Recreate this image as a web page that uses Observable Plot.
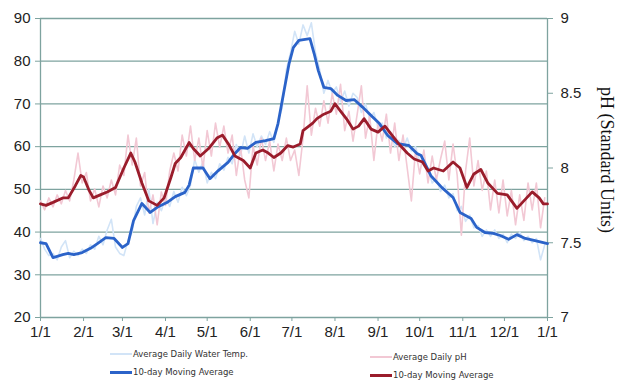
<!DOCTYPE html>
<html><head><meta charset="utf-8">
<script src="https://cdn.jsdelivr.net/npm/d3@7"></script>
<script src="https://cdn.jsdelivr.net/npm/@observablehq/plot@0.6"></script>
<style>
body{margin:0;background:#fff;}
#wrap{position:relative;width:620px;height:380px;overflow:hidden;background:#fff;}
#wrap svg{position:absolute;left:0;top:0;}
.lg{position:absolute;font-family:"DejaVu Sans",Verdana,sans-serif;font-size:8.5px;color:#333;white-space:nowrap;line-height:10px;}
.sw{position:absolute;width:22px;}
#ylab2{position:absolute;left:606px;top:160px;font-family:"Liberation Serif","Times New Roman",serif;font-size:18px;color:#111;white-space:nowrap;transform:translate(-50%,-50%) rotate(90deg);}
</style>
</head><body>
<div id="wrap"></div>
<script>
// ---- data ----
const monthLabels = ["1/1","2/1","3/1","4/1","5/1","6/1","7/1","8/1","9/1","10/1","11/1","12/1","1/1"];
const leftTicks = [20,30,40,50,60,70,80,90];
const phTicks = [7,7.5,8,8.5,9];

// day-of-year sample positions for daily series
const dailyDays = [0,3,6,9,12,15,18,21,24,27,30,33,36,39,42,45,48,51,54,57,60,63,66,69,72,75,78,81,84,87,90,93,96,99,102,105,108,111,114,117,120,123,126,129,132,135,138,141,144,147,150,153,156,159,162,165,168,171,174,177,180,183,186,189,192,195,198,201,204,207,210,213,216,219,222,225,228,231,234,237,240,243,246,249,252,255,258,261,264,267,270,273,276,279,282,285,288,291,294,297,300,303,306,309,312,315,318,321,324,327,330,333,336,339,342,345,348,351,354,357,360,363];
const dailyTemp = [38.5,36,34.5,35,33.5,36.5,38,34,35.5,34.5,
  36,35,37,36,39,37,40.5,43,36.5,35,
  34.5,38,40,46,48,44,50,42,47,45,
  48,46,49.5,47,50.5,48.5,51,57,54,56.5,
  51.5,54,52.5,56,54.5,57.5,56,60.5,58,62.5,
  58.5,63,60,62.5,60.5,63.5,61,66,69,78,
  82,87,84,88.5,86,89,82,78,72.5,75.5,
  72.5,74,70.5,73,69.5,72.5,71.5,68,70,66.5,
  68,64.5,65.5,62,63.5,60,61.5,59.5,62,59,
  60,56.5,57,55,51.5,52.5,49.5,51,48,49,
  45,46,42.5,44,41,41.5,39,40.5,39,40.5,
  38.5,39.5,37.5,39.5,38.5,40,38,39,37.5,38.5,
  33.5,37];
const dailyPH = [7.78,7.72,7.80,7.74,7.82,7.76,7.85,7.78,7.92,8.10,
  7.90,7.97,7.78,7.86,7.74,7.88,7.80,7.92,7.82,8.02,
  7.95,8.22,8.02,8.20,7.88,7.97,7.70,7.82,7.62,7.84,
  7.75,7.98,8.10,7.98,8.22,8.08,8.28,8.05,8.20,8.00,
  8.25,8.08,8.30,8.14,8.28,8.10,8.22,7.95,8.14,7.92,
  7.80,8.15,8.02,8.20,8.05,8.18,7.98,8.16,8.05,8.20,
  8.05,8.12,7.95,8.20,8.55,8.22,8.40,8.28,8.45,8.30,
  8.50,8.36,8.56,8.25,8.38,8.18,8.36,8.55,8.20,8.35,
  8.05,8.30,8.18,8.36,8.10,8.30,8.05,8.22,8.00,7.78,
  8.12,7.96,8.12,7.90,8.08,7.92,8.06,8.18,7.92,8.16,
  7.95,7.55,7.98,8.20,7.88,8.05,7.85,7.98,7.72,7.92,
  7.70,7.92,7.68,7.85,7.62,7.82,7.65,7.90,7.72,7.90,
  7.60,7.80];

// 10-day moving averages
const tempMADays = [0,4,9,16,20,24,30,36,41,47,53,59,63,67,73,79,84,91,97,104,107,110,117,122,128,135,140,144,149,155,162,168,171,175,179,182,186,194,197,200,204,209,214,220,226,232,238,244,250,257,265,271,274,281,289,297,302,310,314,320,326,331,337,343,349,356,365];
const tempMA = [37.5,37.3,34.0,34.7,35.0,34.7,35.2,36.2,37.3,38.7,38.5,36.4,37.3,42.7,46.7,44.6,45.8,46.9,48.3,49.3,51.0,55.0,55.0,52.5,54.4,56.3,58.4,59.8,59.6,61.0,61.4,61.9,65.4,72.5,79.5,83.2,84.9,85.3,81.8,77.8,73.9,73.6,72.0,70.8,71.0,69.2,67.3,65.4,62.6,60.7,60.3,58.4,57.9,53.2,50.4,48.1,44.6,43.2,41.1,39.9,39.7,39.2,38.3,39.4,38.5,38.0,37.3];
const phMADays = [0,4,9,16,20,25,29,31,35,38,43,48,54,60,65,68,73,78,84,89,94,97,101,107,110,115,121,127,131,136,140,146,151,155,160,164,168,173,178,182,187,189,196,199,204,209,212,216,221,225,229,233,238,243,248,253,259,264,269,275,279,283,290,297,302,307,312,317,322,329,336,343,348,354,359,362,365];
const phMA = [7.76,7.75,7.77,7.80,7.80,7.88,7.95,7.94,7.85,7.80,7.82,7.84,7.87,8.00,8.10,8.04,7.90,7.78,7.75,7.80,7.94,8.03,8.07,8.17,8.13,8.08,8.13,8.20,8.22,8.15,8.08,8.05,8.00,8.10,8.12,8.10,8.07,8.10,8.15,8.14,8.16,8.25,8.30,8.33,8.36,8.38,8.43,8.38,8.32,8.26,8.28,8.33,8.26,8.24,8.28,8.22,8.15,8.10,8.06,8.04,7.98,8.00,7.98,8.04,8.00,7.87,7.96,7.99,7.90,7.83,7.82,7.73,7.78,7.84,7.80,7.76,7.76];

// ---- helpers ----
const D = d => new Date(Date.UTC(2013, 0, 1 + d));
const phToT = p => 20 + (p - 7) * 35;   // map pH onto the temperature scale
const rows = (days, vals) => days.map((d, i) => ({date: D(d), v: vals[i]}));
const monthDates = monthLabels.map((_, i) => new Date(Date.UTC(2013, i, 1)));

const GRID = "#7ea39f";
const C_TEMP = "#d2e4f7", C_TEMPMA = "#2b63c9", C_PH = "#f2c8d4", C_PHMA = "#9a1c2b";

const chart = Plot.plot({
  width: 620, height: 340,
  marginLeft: 40, marginRight: 73, marginTop: 18, marginBottom: 23,
  style: {fontFamily: "'Liberation Sans', Arial, sans-serif", fontSize: "15px", color: "#222", background: "transparent"},
  x: {type: "utc", domain: [D(0), D(365)]},
  y: {domain: [20, 90]},
  marks: [
    Plot.ruleY(leftTicks, {stroke: GRID, strokeWidth: 1.3}),
    Plot.ruleX([D(0), D(365)], {stroke: GRID, strokeWidth: 1.3}),
    Plot.axisY({anchor: "left", ticks: leftTicks, tickSize: 5, tickPadding: 5, label: null, stroke: GRID, fill: "#222"}),
    Plot.axisY({anchor: "right", ticks: phTicks.map(phToT), tickFormat: t => String(+((t - 20) / 35 + 7).toFixed(1)), tickSize: 5, tickPadding: 8, label: null, stroke: GRID, fill: "#222"}),
    Plot.axisX({ticks: monthDates, tickFormat: (d, i) => monthLabels[i], tickSize: 4, tickPadding: 5, label: null, stroke: GRID, fill: "#222"}),
    Plot.line(rows(dailyDays, dailyTemp), {x: "date", y: "v", stroke: C_TEMP, strokeWidth: 1.6}),
    Plot.line(rows(dailyDays, dailyPH), {x: "date", y: d => phToT(d.v), stroke: C_PH, strokeWidth: 1.6}),
    Plot.line(rows(tempMADays, tempMA), {x: "date", y: "v", stroke: C_TEMPMA, strokeWidth: 2.8}),
    Plot.line(rows(phMADays, phMA), {x: "date", y: d => phToT(d.v), stroke: C_PHMA, strokeWidth: 2.8})
  ]
});

const wrap = document.getElementById("wrap");
wrap.appendChild(chart);

const lab = document.createElement("div");
lab.id = "ylab2";
lab.textContent = "pH (Standard Units)";
wrap.appendChild(lab);

const legend = [
  {label: "Average Daily Water Temp.", color: C_TEMP, w: 2, x: 110, y: 354},
  {label: "10-day Moving Average", color: C_TEMPMA, w: 3, x: 110, y: 372},
  {label: "Average Daily pH", color: C_PH, w: 2, x: 370, y: 357},
  {label: "10-day Moving Average", color: C_PHMA, w: 3, x: 370, y: 375}
];
for (const it of legend) {
  const s = document.createElement("div");
  s.className = "sw";
  s.style.left = it.x + "px";
  s.style.top = (it.y - it.w / 2) + "px";
  s.style.height = it.w + "px";
  s.style.background = it.color;
  wrap.appendChild(s);
  const t = document.createElement("div");
  t.className = "lg";
  t.style.left = (it.x + 23) + "px";
  t.style.top = (it.y - 5) + "px";
  t.textContent = it.label;
  wrap.appendChild(t);
}
</script>
</body></html>
